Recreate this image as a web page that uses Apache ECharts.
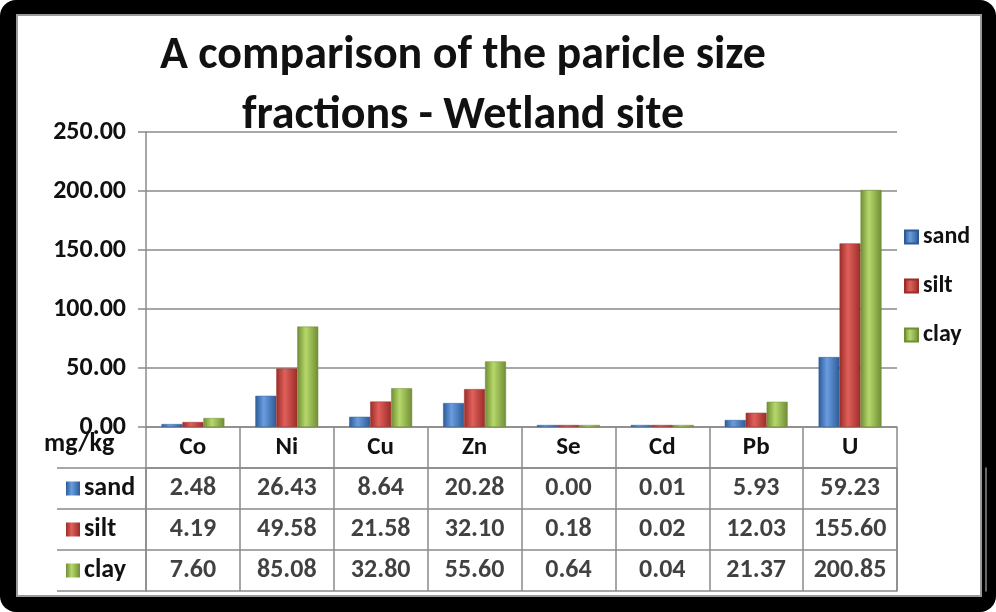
<!DOCTYPE html>
<html>
<head>
<meta charset="utf-8">
<script src="https://cdn.jsdelivr.net/npm/echarts@6/dist/echarts.min.js"></script>
<style>
html, body { margin: 0; padding: 0; background: #fff; }
#frame { position: absolute; left: 0; top: 0; width: 996px; height: 612px; background: #000; border-radius: 16px; }
#paper { position: absolute; left: 16px; top: 14px; width: 962px; height: 579px; background: #fff; border: 2px solid #9a9a9a; }
#container { position: absolute; left: 0; top: 0; width: 996px; height: 612px; }
</style>
</head>
<body>
<div id="frame"><div id="paper"></div></div>
<div id="container"></div>
<script>
var categories = ['Co', 'Ni', 'Cu', 'Zn', 'Se', 'Cd', 'Pb', 'U'];
var seriesNames = ['sand', 'silt', 'clay'];
var sand = [2.48, 26.43, 8.64, 20.28, 0.00, 0.01, 5.93, 59.23];
var silt = [4.19, 49.58, 21.58, 32.10, 0.18, 0.02, 12.03, 155.60];
var clay = [7.60, 85.08, 32.80, 55.60, 0.64, 0.04, 21.37, 200.85];
var yMin = 0, yMax = 250, yStep = 50;

var FONT = 'Calibri, Carlito, Lato, sans-serif';
var GREY = '#8a8a8a';
var darks = ['#2c5b96', '#9b2c28', '#6f8d35'];
var lights = ['#6a9de0', '#e0605b', '#b6d86a'];

function barColor(i) {
    return {
        type: 'linear', x: 0, y: 0, x2: 1, y2: 0,
        colorStops: [
            {offset: 0, color: darks[i]},
            {offset: 0.4, color: lights[i]},
            {offset: 1, color: darks[i]}
        ]
    };
}

var values = [sand, silt, clay];

var barSeries = seriesNames.map(function (name, i) {
    return {
        name: name,
        type: 'bar',
        xAxisIndex: 0,
        yAxisIndex: 0,
        data: values[i],
        barGap: '0%',
        barCategoryGap: '33%',
        barMinHeight: 2,
        itemStyle: {color: barColor(i), borderColor: darks[i], borderWidth: 0.5}
    };
});

// table cells
var cells = [];
values.forEach(function (arr, i) {
    arr.forEach(function (v, j) { cells.push([j, i, v]); });
});

var richMarks = {t: {fontSize: 26, fontWeight: 'bold', fontFamily: FONT, color: '#111', padding: [0, 0, 0, 4]}};
seriesNames.forEach(function (n, i) {
    richMarks['m' + i] = {width: 14, height: 14, backgroundColor: barColor(i)};
});

window.onload = function () {
    var dom = document.getElementById('container');
    var myChart = echarts.init(dom);
    var option = {
        animation: false,
        title: {
            text: 'A comparison of the paricle size\nfractions - Wetland site',
            left: 458,
            top: 21,
            textAlign: 'center',
            textStyle: {fontSize: 46, fontWeight: 'bold', fontFamily: FONT, color: '#111', lineHeight: 60}
        },
        legend: {
            orient: 'vertical',
            left: 899,
            top: 220,
            itemWidth: 13,
            itemHeight: 13,
            itemGap: 25,
            icon: 'rect',
            data: seriesNames,
            textStyle: {fontSize: 24, fontWeight: 'bold', fontFamily: FONT, color: '#111'}
        },
        graphic: [{
            type: 'text',
            left: 44,
            top: 431,
            style: {text: 'mg/kg', font: 'bold 26px ' + FONT, fill: '#111'}
        }],
        grid: [
            {left: 146, right: 99, top: 132, bottom: 185},
            {left: 146, right: 99, top: 468, bottom: 21}
        ],
        xAxis: [{
            gridIndex: 0,
            type: 'category',
            data: categories,
            axisLine: {lineStyle: {color: GREY, width: 1.5}},
            axisTick: {show: true, interval: 0, length: 41, lineStyle: {color: GREY, width: 1.5}},
            axisLabel: {margin: 8, fontSize: 25, fontWeight: 'bold', fontFamily: FONT, color: '#111'}
        }, {
            gridIndex: 1,
            type: 'category',
            data: categories,
            position: 'top',
            axisLine: {show: true, lineStyle: {color: GREY, width: 1.5}},
            axisTick: {show: false},
            axisLabel: {show: false},
            splitLine: {show: true, interval: 0, lineStyle: {color: GREY, width: 1.5}}
        }],
        yAxis: [{
            gridIndex: 0,
            type: 'value',
            min: yMin,
            max: yMax,
            interval: yStep,
            axisLine: {show: true, lineStyle: {color: GREY, width: 1.5}},
            axisTick: {show: true, length: 8, lineStyle: {color: GREY, width: 1.5}},
            axisLabel: {
                margin: 20, fontSize: 26, fontWeight: 'bold', fontFamily: FONT, color: '#111',
                formatter: function (v) { return v.toFixed(2); }
            },
            splitLine: {show: true, lineStyle: {color: GREY, width: 1.5}}
        }, {
            gridIndex: 1,
            type: 'category',
            data: seriesNames,
            inverse: true,
            axisLine: {show: true, lineStyle: {color: GREY, width: 1.5}},
            axisTick: {show: true, interval: 0, length: 89, lineStyle: {color: GREY, width: 1.5}},
            axisLabel: {
                margin: 80,
                align: 'left',
                rich: richMarks,
                formatter: function (v, idx) { return '{m' + idx + '|}{t|' + v + '}'; }
            },
            splitLine: {show: true, interval: 0, lineStyle: {color: GREY, width: 1.5}}
        }, {
            gridIndex: 1,
            type: 'category',
            data: seriesNames,
            inverse: true,
            offset: 89,
            axisLine: {show: true, lineStyle: {color: GREY, width: 1.5}},
            axisTick: {show: false},
            axisLabel: {show: false}
        }, {
            gridIndex: 1,
            type: 'category',
            data: seriesNames,
            inverse: true,
            position: 'right',
            axisLine: {show: true, lineStyle: {color: GREY, width: 1.5}},
            axisTick: {show: false},
            axisLabel: {show: false}
        }],
        series: barSeries.concat([{
            name: 'table',
            type: 'scatter',
            xAxisIndex: 1,
            yAxisIndex: 1,
            data: cells,
            symbolSize: 1,
            silent: true,
            itemStyle: {color: 'rgba(0,0,0,0)'},
            label: {
                show: true,
                position: 'inside',
                fontSize: 26,
                fontWeight: 'bold',
                fontFamily: FONT,
                color: '#111',
                formatter: function (p) { return p.value[2].toFixed(2); }
            }
        }])
    };
    myChart.setOption(option);
};
</script>
</body>
</html>
